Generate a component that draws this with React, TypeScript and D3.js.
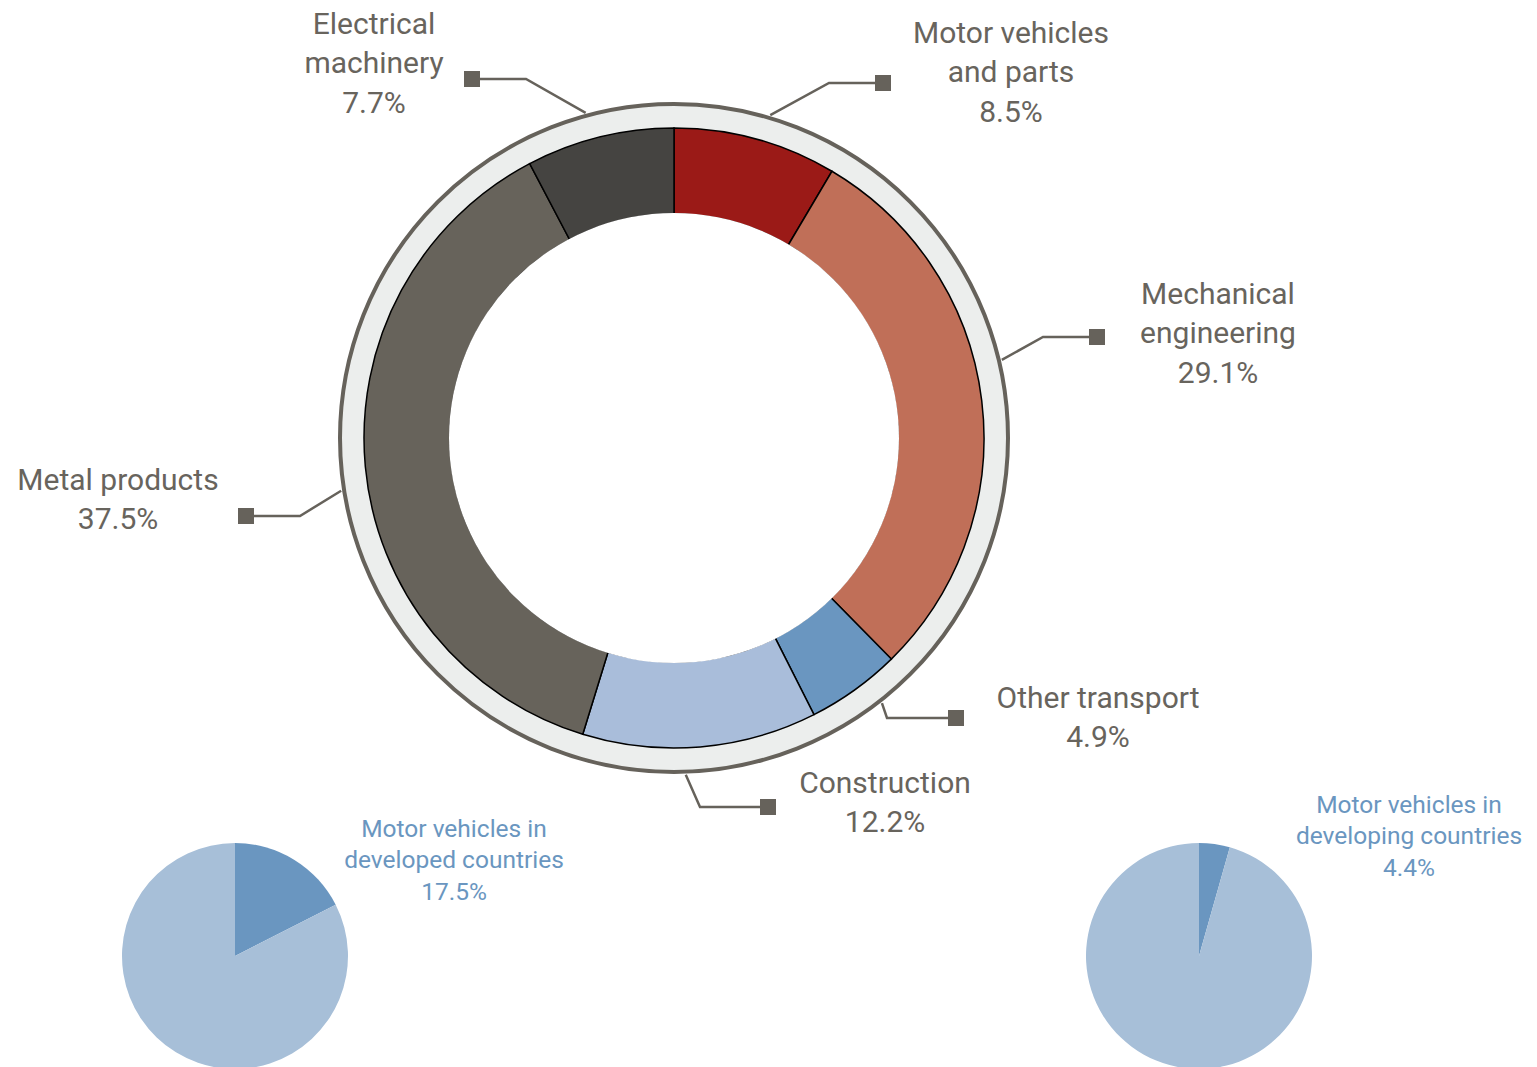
import React from "react";
import * as d3 from "d3";

const sectors = [
  "Motor vehicles and parts",
  "Mechanical engineering",
  "Other transport",
  "Construction",
  "Metal products",
  "Electrical machinery",
];
const shares = [8.5, 29.1, 4.9, 12.2, 37.5, 7.7];
const sectorColors = ["#9b1a17", "#c06f58", "#6a96c0", "#a9bdda", "#67635b", "#454441"];
const labelLines = [
  ["Motor vehicles", "and parts", "8.5%"],
  ["Mechanical", "engineering", "29.1%"],
  ["Other transport", "4.9%"],
  ["Construction", "12.2%"],
  ["Metal products", "37.5%"],
  ["Electrical", "machinery", "7.7%"],
];

const smallPieNames = ["Motor vehicles in developed countries", "Motor vehicles in developing countries"];
const smallPieShares = [17.5, 4.4];
const smallPieLines = [
  ["Motor vehicles in", "developed countries", "17.5%"],
  ["Motor vehicles in", "developing countries", "4.4%"],
];

// label layout: ring angle (deg from top), elbow, marker, text centre
const leaders = [
  { angle: 16.6, elbow: [829, 83], marker: [883, 83], text: [1011, 32] },
  { angle: 76.6, elbow: [1043, 337], marker: [1097, 337], text: [1218, 293] },
  { angle: 141.9, elbow: [887, 718], marker: [956, 718], text: [1098, 697] },
  { angle: 178, elbow: [700, 807], marker: [768, 807], text: [885, 782] },
  { angle: 261, elbow: [300, 516], marker: [246, 516], text: [118, 479] },
  { angle: -15.2, elbow: [526, 79], marker: [472, 79], text: [374, 23] },
];

const W = 1537;
const H = 1067;
const cx = 674;
const cy = 438;
const gray = "#66625b";
const font = "Roboto, 'DejaVu Sans', sans-serif";

export default function App() {
  const pie = d3.pie<number>().sort(null).value((d) => d);
  const arcs = pie(shares);
  const arc = d3.arc<d3.PieArcDatum<number>>().innerRadius(224).outerRadius(310);

  const smallPie = d3.pie<number>().sort(null).value((d) => d);
  const smallArc = d3.arc<d3.PieArcDatum<number>>().innerRadius(0).outerRadius(113);
  const smallCenters = [
    [235, 956],
    [1199, 956],
  ];
  const smallText = [
    [454, 828],
    [1409, 804],
  ];

  const ringR = 337;

  return (
    <svg
      width={W}
      height={H}
      style={{ position: "absolute", left: 0, top: 0, background: "#fff" }}
      fontFamily={font}
    >
      <g transform={`translate(${cx},${cy})`}>
        <circle r={334} fill="#eceeed" stroke={gray} strokeWidth={4} />
        {arcs.map((a, i) => (
          <path key={sectors[i]} d={arc(a) || ""} fill={sectorColors[i]} stroke="#000" strokeWidth={1.5} />
        ))}
        <circle r={225} fill="#fff" />
      </g>

      {leaders.map((l, i) => {
        const rad = (l.angle * Math.PI) / 180;
        const sx = cx + ringR * Math.sin(rad);
        const sy = cy - ringR * Math.cos(rad);
        const lines = labelLines[i];
        return (
          <g key={"lab" + i}>
            <polyline
              points={`${sx},${sy} ${l.elbow[0]},${l.elbow[1]} ${l.marker[0]},${l.marker[1]}`}
              fill="none"
              stroke={gray}
              strokeWidth={2.5}
            />
            <rect x={l.marker[0] - 8} y={l.marker[1] - 8} width={16} height={16} fill={gray} />
            <text textAnchor="middle" fill="#68645d" fontSize={30}>
              {lines.map((t, j) => (
                <tspan key={j} x={l.text[0]} y={l.text[1] + j * 39.5} dy="0.35em">
                  {t}
                </tspan>
              ))}
            </text>
          </g>
        );
      })}

      {smallPieShares.map((v, k) => {
        const parts = smallPie([v, 100 - v]);
        return (
          <g key={smallPieNames[k]}>
            <g transform={`translate(${smallCenters[k][0]},${smallCenters[k][1]})`}>
              {parts.map((p, j) => (
                <path key={j} d={smallArc(p) || ""} fill={j === 0 ? "#6a96c0" : "#a7bfd8"} />
              ))}
            </g>
            <text textAnchor="middle" fill="#6a96c0" fontSize={24.5}>
              {smallPieLines[k].map((t, j) => (
                <tspan key={j} x={smallText[k][0]} y={smallText[k][1] + j * 31.5} dy="0.35em">
                  {t}
                </tspan>
              ))}
            </text>
          </g>
        );
      })}
    </svg>
  );
}
